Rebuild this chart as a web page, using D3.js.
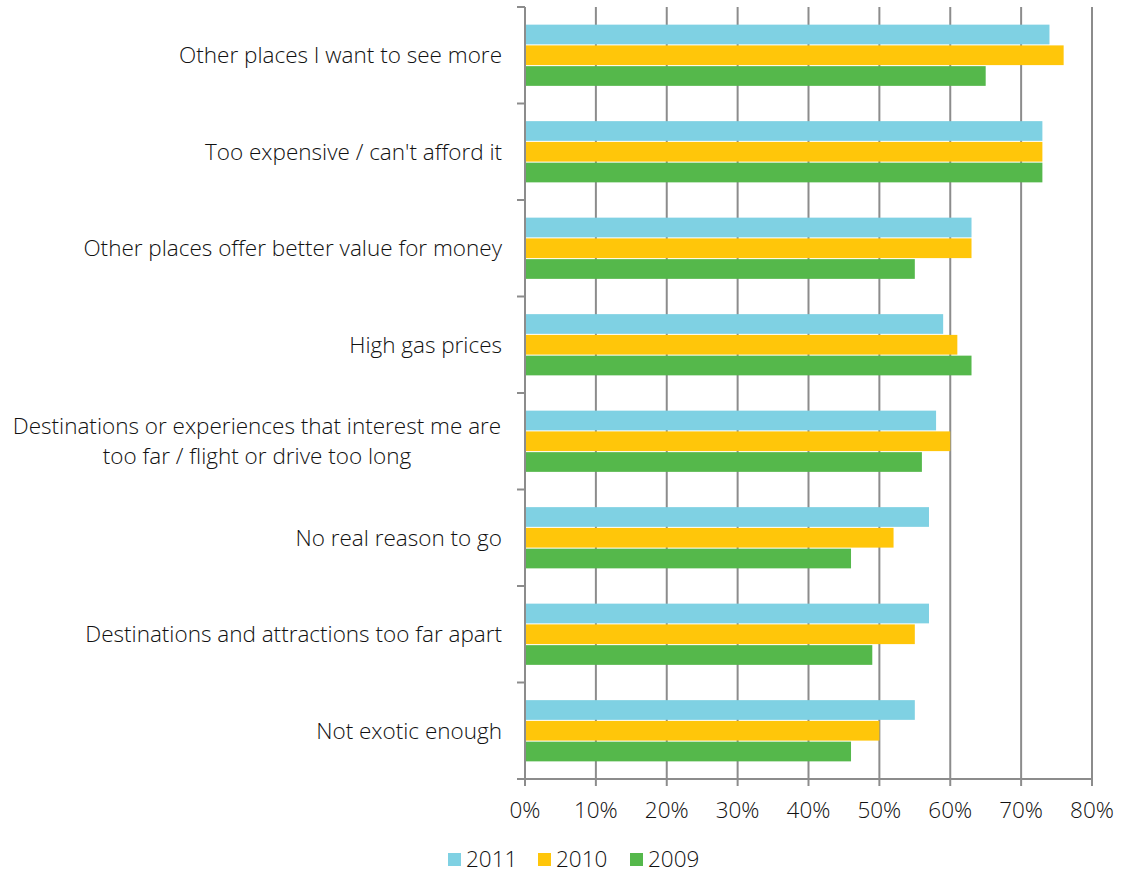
<!DOCTYPE html>
<html>
<head>
<meta charset="utf-8">
<script src="https://cdn.jsdelivr.net/npm/d3@7"></script>
<style>
  body { margin: 0; background: #fff; }
  text { font-family: "Open Sans", "Liberation Sans", sans-serif; font-weight: 300; fill: #111; }
</style>
</head>
<body>
<svg id="chart" width="1123" height="875"></svg>
<script>
const categories = [
  "Other places I want to see more",
  "Too expensive / can't afford it",
  "Other places offer better value for money",
  "High gas prices",
  "Destinations or experiences that interest me are|too far / flight or drive too long",
  "No real reason to go",
  "Destinations and attractions too far apart",
  "Not exotic enough"
];
const seriesNames = ["2011", "2010", "2009"];
const values2011 = [74, 73, 63, 59, 58, 57, 57, 55];
const values2010 = [76, 73, 63, 61, 60, 52, 55, 50];
const values2009 = [65, 73, 55, 63, 56, 46, 49, 46];
const xTicks = [0, 10, 20, 30, 40, 50, 60, 70, 80];
const colors = ["#7FD1E3", "#FFC60A", "#55B84B"];

const seriesValues = [values2011, values2010, values2009];
const svg = d3.select("#chart");
const margin = { left: 525, right: 31, top: 7, bottom: 96 };
const W = 1123, H = 875;
const FS = 22.5;

const x = d3.scaleLinear().domain([0, 80]).range([margin.left, W - margin.right]);
const y = d3.scaleBand().domain(categories).range([margin.top, H - margin.bottom]);
const inner = d3.scaleBand().domain(seriesNames).range([0, y.bandwidth()]).paddingInner(0.05).paddingOuter(0.85);

// vertical gridlines
svg.append("g").selectAll("line").data(xTicks.slice(1)).join("line")
  .attr("x1", d => x(d)).attr("x2", d => x(d))
  .attr("y1", margin.top).attr("y2", H - margin.bottom)
  .attr("stroke", "#8c8c8c").attr("stroke-width", 2);

// bars
const groups = svg.append("g").selectAll("g").data(categories).join("g")
  .attr("transform", d => `translate(0,${y(d)})`);
groups.selectAll("rect").data((c, i) => seriesNames.map((s, j) => ({ s, j, v: seriesValues[j][i] })))
  .join("rect")
  .attr("x", x(0))
  .attr("y", d => inner(d.s))
  .attr("width", d => x(d.v) - x(0))
  .attr("height", inner.bandwidth())
  .attr("fill", d => colors[d.j]);

// y axis
const yAxis = svg.append("g").attr("transform", `translate(${x(0)},0)`);
yAxis.append("line").attr("x1", 0).attr("x2", 0).attr("y1", margin.top).attr("y2", H - margin.bottom)
  .attr("stroke", "#8c8c8c").attr("stroke-width", 2);
const yEdges = categories.map(c => y(c)).concat([H - margin.bottom]);
yAxis.selectAll("line.tick").data(yEdges).join("line").attr("class", "tick")
  .attr("x1", -8).attr("x2", 0).attr("y1", d => d).attr("y2", d => d)
  .attr("stroke", "#8c8c8c").attr("stroke-width", 2);

// category labels
svg.append("g").selectAll("text").data(categories).join("text")
  .attr("font-size", FS)
  .each(function (d) {
    const lines = d.split("|");
    const t = d3.select(this);
    const cy = y(d) + y.bandwidth() / 2;
    if (lines.length === 1) {
      t.attr("x", 502).attr("text-anchor", "end").attr("y", cy).attr("dy", "0.35em").text(d);
    } else {
      t.attr("text-anchor", "middle");
      lines.forEach((l, k) => {
        t.append("tspan").attr("x", 257).attr("y", cy + (k - 0.5) * 30).attr("dy", "0.35em").text(l);
      });
    }
  });

// x axis
const xAxisY = H - margin.bottom;
svg.append("line").attr("x1", x(0) - 8).attr("x2", x(80)).attr("y1", xAxisY).attr("y2", xAxisY)
  .attr("stroke", "#8c8c8c").attr("stroke-width", 2);
svg.append("g").selectAll("line").data(xTicks).join("line")
  .attr("x1", d => x(d)).attr("x2", d => x(d)).attr("y1", xAxisY).attr("y2", xAxisY + 7)
  .attr("stroke", "#8c8c8c").attr("stroke-width", 2);
svg.append("g").selectAll("text").data(xTicks).join("text")
  .attr("x", d => x(d)).attr("y", 810).attr("dy", "0.35em")
  .attr("text-anchor", "middle").attr("font-size", FS)
  .text(d => d + "%");

// legend
const legendX = [448, 538, 630];
const legend = svg.append("g").selectAll("g").data(seriesNames).join("g")
  .attr("transform", (d, i) => `translate(${legendX[i]},853)`);
legend.append("rect").attr("width", 13).attr("height", 13).attr("fill", (d, i) => colors[i]);
legend.append("text").attr("x", 18).attr("y", 6.5).attr("dy", "0.35em").attr("font-size", FS).text(d => d);
</script>
</body>
</html>
